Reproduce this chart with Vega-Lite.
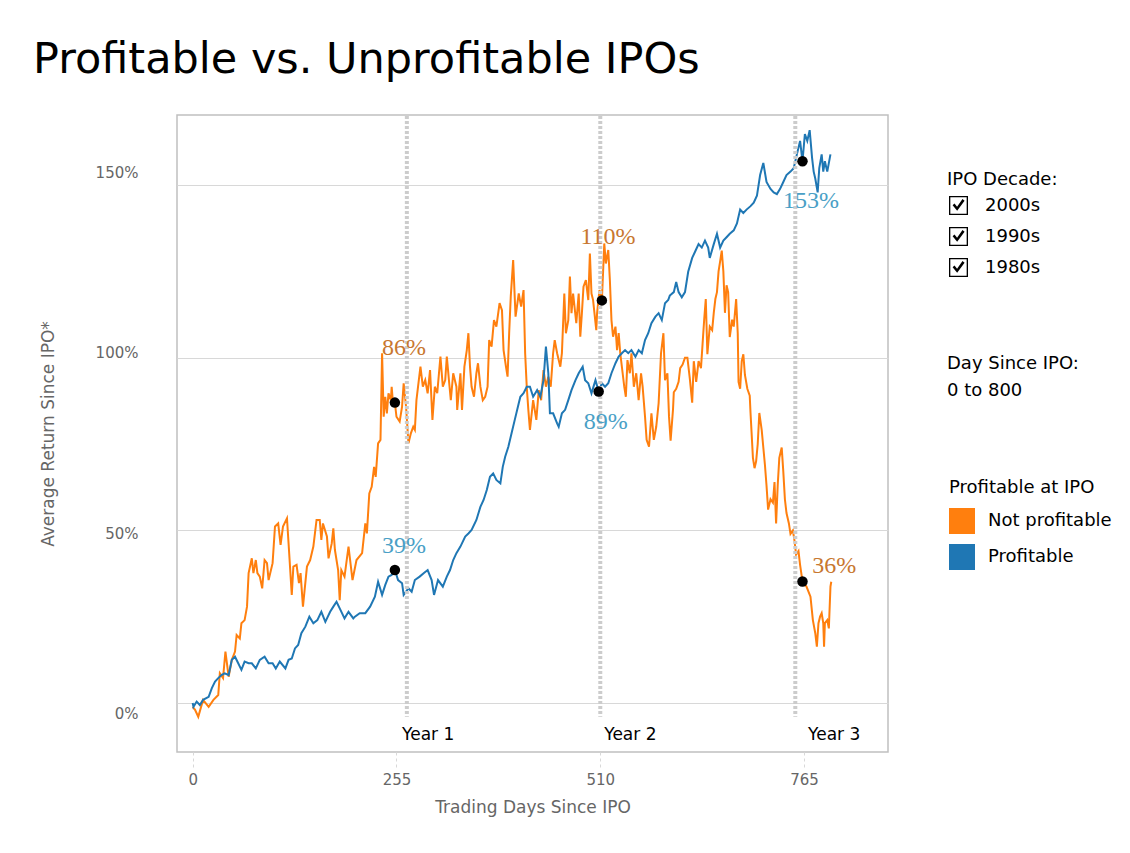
{
  "$schema": "https://vega.github.io/schema/vega-lite/v6.json",
  "autosize": "none",
  "width": 711,
  "height": 637,
  "padding": {"left": 177, "top": 115, "right": 242, "bottom": 101},
  "background": "white",
  "config": {
    "font": "DejaVu Sans",
    "view": {"stroke": "#c0c0c0", "strokeWidth": 1.5}
  },
  "title": {
    "text": "Profitable vs. Unprofitable IPOs",
    "anchor": "start",
    "frame": "group",
    "dx": -144,
    "dy": 42,
    "offset": 40,
    "baseline": "alphabetic",
    "font": "DejaVu Sans",
    "fontSize": 43,
    "fontWeight": "normal",
    "color": "black"
  },
  "datasets": {
    "np": [
      {"day":0,"ret":-1.1},{"day":3,"ret":-2.0},{"day":7,"ret":-4.0},{"day":13,"ret":0.9},{"day":20,"ret":-1.1},{"day":26,"ret":0.9},{"day":32,"ret":2.3},{"day":34,"ret":8.6},{"day":38,"ret":7.2},{"day":41,"ret":14.9},{"day":45,"ret":7.6},{"day":49,"ret":12.5},{"day":53,"ret":14.9},{"day":55,"ret":19.7},{"day":59,"ret":18.7},{"day":61,"ret":23.1},{"day":65,"ret":24.0},{"day":68,"ret":27.9},{"day":70,"ret":37.6},{"day":74,"ret":41.9},{"day":76,"ret":37.6},{"day":79,"ret":41.4},{"day":81,"ret":37.6},{"day":84,"ret":36.6},{"day":87,"ret":33.2},{"day":90,"ret":41.4},{"day":93,"ret":40.5},{"day":95,"ret":35.6},{"day":100,"ret":40.5},{"day":103,"ret":51.1},{"day":107,"ret":52.0},{"day":110,"ret":45.8},{"day":113,"ret":51.1},{"day":118,"ret":53.5},{"day":120,"ret":46.2},{"day":124,"ret":31.3},{"day":126,"ret":39.5},{"day":130,"ret":40.0},{"day":133,"ret":34.7},{"day":135,"ret":37.6},{"day":138,"ret":27.9},{"day":143,"ret":39.5},{"day":147,"ret":41.4},{"day":151,"ret":45.3},{"day":155,"ret":53.0},{"day":159,"ret":53.0},{"day":161,"ret":47.2},{"day":163,"ret":52.0},{"day":168,"ret":48.2},{"day":170,"ret":41.9},{"day":174,"ret":46.2},{"day":176,"ret":50.6},{"day":178,"ret":44.3},{"day":182,"ret":38.5},{"day":184,"ret":29.8},{"day":186,"ret":38.5},{"day":190,"ret":36.6},{"day":195,"ret":45.3},{"day":200,"ret":35.6},{"day":205,"ret":41.4},{"day":212,"ret":43.4},{"day":216,"ret":52.0},{"day":218,"ret":49.1},{"day":221,"ret":60.7},{"day":224,"ret":62.6},{"day":227,"ret":68.4},{"day":229,"ret":65.5},{"day":232,"ret":75.2},{"day":235,"ret":76.2},{"day":237,"ret":101.3},{"day":239,"ret":82.9},{"day":241,"ret":88.7},{"day":243,"ret":83.9},{"day":245,"ret":89.7},{"day":248,"ret":87.7},{"day":249,"ret":91.6},{"day":251,"ret":85.8},{"day":253,"ret":87.0},{"day":255,"ret":82.9},{"day":259,"ret":81.5},{"day":262,"ret":85.8},{"day":264,"ret":92.6},{"day":267,"ret":85.8},{"day":270,"ret":75.2},{"day":273,"ret":78.1},{"day":276,"ret":80.0},{"day":278,"ret":79.1},{"day":280,"ret":87.7},{"day":282,"ret":91.6},{"day":285,"ret":97.4},{"day":288,"ret":91.6},{"day":291,"ret":93.5},{"day":294,"ret":89.7},{"day":297,"ret":96.4},{"day":300,"ret":82.0},{"day":303,"ret":91.6},{"day":306,"ret":89.7},{"day":310,"ret":100.3},{"day":313,"ret":91.6},{"day":316,"ret":93.5},{"day":318,"ret":100.3},{"day":321,"ret":92.6},{"day":323,"ret":87.7},{"day":326,"ret":95.5},{"day":330,"ret":91.6},{"day":331,"ret":84.9},{"day":335,"ret":95.5},{"day":337,"ret":84.9},{"day":340,"ret":97.4},{"day":343,"ret":102.2},{"day":345,"ret":107.1},{"day":347,"ret":97.4},{"day":349,"ret":91.6},{"day":352,"ret":88.7},{"day":355,"ret":95.5},{"day":357,"ret":98.4},{"day":360,"ret":91.6},{"day":363,"ret":87.7},{"day":366,"ret":88.7},{"day":369,"ret":91.6},{"day":371,"ret":105.1},{"day":374,"ret":103.2},{"day":377,"ret":110.9},{"day":380,"ret":109.0},{"day":384,"ret":115.8},{"day":387,"ret":113.8},{"day":389,"ret":102.2},{"day":392,"ret":97.4},{"day":394,"ret":94.5},{"day":396,"ret":107.1},{"day":398,"ret":117.7},{"day":401,"ret":128.3},{"day":404,"ret":111.9},{"day":408,"ret":118.6},{"day":411,"ret":114.8},{"day":414,"ret":119.6},{"day":416,"ret":101.3},{"day":418,"ret":91.6},{"day":420,"ret":84.9},{"day":422,"ret":79.1},{"day":426,"ret":87.7},{"day":430,"ret":82.0},{"day":433,"ret":90.6},{"day":436,"ret":87.7},{"day":439,"ret":96.4},{"day":442,"ret":91.6},{"day":445,"ret":94.5},{"day":448,"ret":91.6},{"day":451,"ret":101.3},{"day":453,"ret":105.1},{"day":456,"ret":101.3},{"day":460,"ret":97.4},{"day":462,"ret":101.3},{"day":465,"ret":118.6},{"day":467,"ret":107.1},{"day":470,"ret":110.9},{"day":472,"ret":123.5},{"day":474,"ret":112.9},{"day":476,"ret":118.6},{"day":480,"ret":110.0},{"day":483,"ret":118.6},{"day":485,"ret":106.1},{"day":487,"ret":112.9},{"day":489,"ret":120.6},{"day":492,"ret":122.5},{"day":495,"ret":116.7},{"day":497,"ret":130.2},{"day":499,"ret":118.6},{"day":501,"ret":116.7},{"day":505,"ret":108.0},{"day":506,"ret":112.9},{"day":509,"ret":119.6},{"day":512,"ret":116.6},{"day":515,"ret":133.1},{"day":517,"ret":127.3},{"day":520,"ret":131.2},{"day":522,"ret":122.5},{"day":524,"ret":110.9},{"day":526,"ret":106.1},{"day":529,"ret":109.0},{"day":531,"ret":102.2},{"day":533,"ret":107.1},{"day":535,"ret":101.3},{"day":538,"ret":95.5},{"day":540,"ret":91.6},{"day":542,"ret":88.7},{"day":544,"ret":99.3},{"day":547,"ret":95.5},{"day":549,"ret":101.3},{"day":552,"ret":91.6},{"day":555,"ret":95.5},{"day":558,"ret":87.7},{"day":561,"ret":95.5},{"day":563,"ret":91.6},{"day":566,"ret":82.9},{"day":568,"ret":76.2},{"day":571,"ret":74.2},{"day":574,"ret":83.9},{"day":577,"ret":76.2},{"day":580,"ret":80.0},{"day":583,"ret":86.8},{"day":586,"ret":101.3},{"day":589,"ret":107.1},{"day":591,"ret":93.5},{"day":594,"ret":95.5},{"day":596,"ret":83},{"day":598,"ret":76},{"day":601,"ret":85},{"day":602,"ret":90},{"day":605,"ret":91},{"day":608,"ret":93},{"day":610,"ret":97},{"day":613,"ret":98},{"day":616,"ret":100},{"day":619,"ret":100},{"day":622,"ret":94},{"day":625,"ret":87},{"day":627,"ret":99},{"day":630,"ret":93},{"day":633,"ret":99},{"day":636,"ret":97},{"day":638,"ret":104},{"day":640,"ret":111},{"day":642,"ret":117},{"day":644,"ret":101},{"day":647,"ret":109},{"day":650,"ret":108},{"day":652,"ret":113},{"day":654,"ret":117},{"day":656,"ret":119},{"day":658,"ret":125},{"day":660,"ret":128},{"day":662,"ret":131},{"day":664,"ret":125},{"day":666,"ret":113},{"day":668,"ret":121},{"day":670,"ret":119},{"day":672,"ret":106},{"day":675,"ret":111},{"day":677,"ret":109},{"day":680,"ret":117},{"day":682,"ret":107},{"day":683,"ret":93},{"day":685,"ret":91},{"day":687,"ret":99},{"day":689,"ret":101},{"day":691,"ret":95},{"day":694,"ret":91},{"day":697,"ret":89},{"day":698,"ret":84},{"day":701,"ret":71},{"day":703,"ret":68},{"day":705,"ret":70},{"day":707,"ret":75},{"day":709,"ret":84},{"day":712,"ret":79},{"day":714,"ret":74},{"day":716,"ret":69},{"day":718,"ret":63},{"day":720,"ret":56},{"day":723,"ret":59},{"day":726,"ret":58},{"day":728,"ret":64},{"day":730,"ret":52},{"day":732,"ret":63},{"day":734,"ret":71},{"day":737,"ret":74},{"day":739,"ret":67},{"day":741,"ret":59},{"day":743,"ret":55},{"day":746,"ret":52},{"day":748,"ret":49},{"day":751,"ret":50},{"day":753,"ret":47},{"day":755,"ret":43},{"day":758,"ret":44},{"day":760,"ret":40},{"day":763,"ret":35.2},{"day":768,"ret":33.7},{"day":773,"ret":30.8},{"day":776,"ret":24.0},{"day":779,"ret":20.2},{"day":781,"ret":16.3},{"day":783,"ret":23.1},{"day":785,"ret":25.0},{"day":787,"ret":26.0},{"day":789,"ret":23.1},{"day":790,"ret":16.3},{"day":791,"ret":23.1},{"day":794,"ret":24.0},{"day":796,"ret":21.6},{"day":798,"ret":33.7},{"day":799,"ret":35.1}
    ],
    "pr": [
      {"day":0,"ret":0},{"day":1,"ret":-1.1},{"day":5,"ret":0.4},{"day":9,"ret":-0.6},{"day":13,"ret":0.9},{"day":20,"ret":1.8},{"day":24,"ret":4.3},{"day":28,"ret":6.2},{"day":32,"ret":7.2},{"day":36,"ret":8.1},{"day":40,"ret":8.6},{"day":45,"ret":8.1},{"day":49,"ret":12.5},{"day":53,"ret":13.4},{"day":57,"ret":11.5},{"day":61,"ret":9.6},{"day":65,"ret":12.0},{"day":70,"ret":11.5},{"day":74,"ret":11.5},{"day":79,"ret":10.0},{"day":84,"ret":12.5},{"day":90,"ret":13.4},{"day":95,"ret":11.5},{"day":100,"ret":11.5},{"day":104,"ret":10.0},{"day":109,"ret":12.0},{"day":116,"ret":10.0},{"day":120,"ret":12.5},{"day":124,"ret":12.9},{"day":128,"ret":15.8},{"day":132,"ret":16.8},{"day":136,"ret":20.2},{"day":141,"ret":22.1},{"day":146,"ret":25.0},{"day":151,"ret":23.1},{"day":156,"ret":24.0},{"day":161,"ret":26.4},{"day":166,"ret":23.5},{"day":172,"ret":26.4},{"day":176,"ret":27.9},{"day":180,"ret":29.3},{"day":184,"ret":27.4},{"day":190,"ret":24.5},{"day":195,"ret":26.4},{"day":201,"ret":24.5},{"day":203,"ret":25.0},{"day":209,"ret":26.0},{"day":216,"ret":26.0},{"day":222,"ret":27.9},{"day":228,"ret":30.8},{"day":232,"ret":35.1},{"day":237,"ret":31.3},{"day":241,"ret":34.2},{"day":245,"ret":36.6},{"day":249,"ret":37.1},{"day":253,"ret":38.5},{"day":257,"ret":35.6},{"day":262,"ret":34.7},{"day":264,"ret":31.3},{"day":270,"ret":33.2},{"day":274,"ret":32.2},{"day":278,"ret":35.6},{"day":284,"ret":36.6},{"day":289,"ret":37.6},{"day":294,"ret":38.5},{"day":299,"ret":35.6},{"day":302,"ret":31.3},{"day":307,"ret":35.6},{"day":313,"ret":33.7},{"day":318,"ret":36.6},{"day":322,"ret":38.5},{"day":326,"ret":41.4},{"day":330,"ret":43.4},{"day":335,"ret":45.3},{"day":341,"ret":48.2},{"day":345,"ret":49.1},{"day":349,"ret":50.1},{"day":355,"ret":53.0},{"day":360,"ret":56.8},{"day":364,"ret":58.8},{"day":368,"ret":61.7},{"day":372,"ret":65.5},{"day":376,"ret":66.5},{"day":380,"ret":64.6},{"day":385,"ret":63.6},{"day":388,"ret":68.4},{"day":391,"ret":71.3},{"day":395,"ret":74.2},{"day":399,"ret":78.1},{"day":403,"ret":82.0},{"day":408,"ret":86.8},{"day":410,"ret":88.7},{"day":414,"ret":89.7},{"day":418,"ret":91.6},{"day":422,"ret":91.6},{"day":426,"ret":88.7},{"day":431,"ret":90.6},{"day":435,"ret":88.7},{"day":439,"ret":93.5},{"day":442,"ret":103.2},{"day":445,"ret":95.5},{"day":447,"ret":83.9},{"day":451,"ret":83.9},{"day":456,"ret":81.0},{"day":458,"ret":80.0},{"day":462,"ret":83.9},{"day":466,"ret":84.9},{"day":470,"ret":87.7},{"day":474,"ret":90.6},{"day":479,"ret":93.5},{"day":483,"ret":95.5},{"day":488,"ret":97.4},{"day":491,"ret":93.5},{"day":495,"ret":92.6},{"day":499,"ret":89.7},{"day":504,"ret":93.5},{"day":508,"ret":90.2},{"day":512,"ret":92.6},{"day":516,"ret":91.6},{"day":520,"ret":92.6},{"day":524,"ret":95.5},{"day":529,"ret":98.4},{"day":533,"ret":100.3},{"day":537,"ret":101.3},{"day":541,"ret":102.2},{"day":545,"ret":101.3},{"day":549,"ret":102.2},{"day":554,"ret":100.3},{"day":558,"ret":102.2},{"day":562,"ret":101.3},{"day":566,"ret":105.1},{"day":570,"ret":107.1},{"day":574,"ret":110.0},{"day":579,"ret":111.9},{"day":583,"ret":112.9},{"day":587,"ret":110.9},{"day":591,"ret":115.8},{"day":595,"ret":116.7},{"day":597,"ret":118.0},{"day":602,"ret":119.0},{"day":605,"ret":121.9},{"day":608,"ret":119.0},{"day":612,"ret":117.5},{"day":616,"ret":119.0},{"day":620,"ret":124.9},{"day":625,"ret":128.9},{"day":629,"ret":130.9},{"day":633,"ret":132.9},{"day":637,"ret":131.9},{"day":641,"ret":133.9},{"day":645,"ret":131.9},{"day":647,"ret":128.9},{"day":652,"ret":132.9},{"day":656,"ret":135.9},{"day":660,"ret":131.9},{"day":664,"ret":133.9},{"day":668,"ret":134.9},{"day":672,"ret":135.9},{"day":677,"ret":136.9},{"day":681,"ret":138.9},{"day":685,"ret":142.9},{"day":689,"ret":141.9},{"day":693,"ret":142.9},{"day":698,"ret":143.9},{"day":702,"ret":144.9},{"day":706,"ret":146.9},{"day":710,"ret":152.9},{"day":714,"ret":156.4},{"day":718,"ret":150.9},{"day":723,"ret":148.9},{"day":727,"ret":147.9},{"day":731,"ret":147.4},{"day":735,"ret":148.9},{"day":739,"ret":150.9},{"day":743,"ret":152.9},{"day":748,"ret":153.9},{"day":752,"ret":154.9},{"day":756,"ret":158.9},{"day":760,"ret":162.8},{"day":763,"ret":156.9},{"day":766,"ret":164.8},{"day":769,"ret":162.8},{"day":772,"ret":165.9},{"day":775,"ret":157.9},{"day":777,"ret":153.9},{"day":779,"ret":151.9},{"day":782,"ret":147.9},{"day":784,"ret":154.9},{"day":787,"ret":158.9},{"day":789,"ret":153.9},{"day":791,"ret":156.9},{"day":794,"ret":153.9},{"day":798,"ret":158.9}
    ],
    "dots": [
      {"day":253,"ret":87.0},{"day":253,"ret":38.5},{"day":512,"ret":116.6},{"day":508,"ret":90.2},{"day":763,"ret":156.9},{"day":763,"ret":35.2}
    ],
    "notes": [
      {"day":264.5,"ret":102.8,"text":"86%","series":"Not profitable"},
      {"day":264.5,"ret":45.5,"text":"39%","series":"Profitable"},
      {"day":519.7,"ret":135,"text":"110%","series":"Not profitable"},
      {"day":517,"ret":81.4,"text":"89%","series":"Profitable"},
      {"day":773.6,"ret":145.4,"text":"153%","series":"Profitable"},
      {"day":802.6,"ret":39.7,"text":"36%","series":"Not profitable"}
    ],
    "years": [
      {"yearDay": 268, "labelDay": 262, "yearLabel": "Year 1"},
      {"yearDay": 510, "labelDay": 515, "yearLabel": "Year 2"},
      {"yearDay": 754, "labelDay": 770, "yearLabel": "Year 3"}
    ],
    "filters": [
      {"decade":"2000s","span":"0 to 800"},
      {"decade":"1990s","span":"0 to 800"},
      {"decade":"1980s","span":"0 to 800"}
    ]
  },
  "layer": [
    {
      "data": {"name": "np"},
      "mark": {"type": "line", "strokeWidth": 2, "clip": true},
      "encoding": {
        "x": {
          "field": "day", "type": "quantitative",
          "scale": {"domain": [-19.6, 870], "nice": false, "zero": false},
          "axis": {
            "values": [0, 255, 510, 765],
            "grid": false, "domain": false,
            "ticks": true, "tickSize": 18, "tickColor": "#d8d8d8", "tickDash": [3, 3], "tickWidth": 1,
            "labelPadding": 2, "labelFont": "DejaVu Sans", "labelFontSize": 15, "labelColor": "#666666",
            "title": "Trading Days Since IPO", "titleFont": "DejaVu Sans", "titleFontSize": 17,
            "titleFontWeight": "normal", "titleColor": "#666666", "titlePadding": 12
          }
        },
        "y": {
          "field": "ret", "type": "quantitative",
          "scale": {"domain": [-14.2, 170.3], "nice": false, "zero": false},
          "axis": {
            "values": [0, 50, 100, 150],
            "labelExpr": "datum.value + '%'",
            "labelOffset": {"expr": "11 - 0.16*datum.value"},
            "grid": true, "gridColor": "#d8d8d8", "gridWidth": 1,
            "domain": false, "ticks": false, "tickSize": 0,
            "labelPadding": 39, "labelFont": "DejaVu Sans", "labelFontSize": 15, "labelColor": "#666666",
            "title": "Average Return Since IPO*", "titleFont": "DejaVu Sans", "titleFontSize": 17,
            "titleFontWeight": "normal", "titleColor": "#666666", "titlePadding": 38
          }
        },
        "color": {
          "datum": "Not profitable",
          "scale": {"domain": ["Not profitable", "Profitable"], "range": ["#ff7f0e", "#1f77b4"]},
          "legend": {
            "title": "Profitable at IPO",
            "orient": "none", "legendX": 772, "legendY": 364,
            "padding": 0,
            "titleFont": "DejaVu Sans", "titleFontSize": 18, "titleFontWeight": "normal", "titleColor": "black",
            "titlePadding": 11,
            "labelFont": "DejaVu Sans", "labelFontSize": 18, "labelColor": "black", "labelOffset": 13,
            "symbolType": "square", "symbolSize": 676, "rowPadding": 10,
            "encode": {"symbols": {"update": {"fill": {"scale": "color", "field": "value"}, "stroke": {"value": "transparent"}, "strokeWidth": {"value": 0}, "opacity": {"value": 1}}}}
          }
        }
      }
    },
    {
      "data": {"name": "pr"},
      "mark": {"type": "line", "strokeWidth": 2, "clip": true},
      "encoding": {
        "x": {"field": "day", "type": "quantitative"},
        "y": {"field": "ret", "type": "quantitative"},
        "color": {"datum": "Profitable"}
      }
    },
    {
      "data": {"name": "years"},
      "mark": {"type": "rule", "color": "#cccccc", "strokeWidth": 4, "strokeDash": [3, 2]},
      "encoding": {
        "x": {"field": "yearDay", "type": "quantitative"},
        "y": {"datum": 170},
        "y2": {"datum": -4}
      }
    },
    {
      "data": {"name": "years"},
      "mark": {"type": "text", "align": "left", "baseline": "middle", "font": "DejaVu Sans", "fontSize": 17, "color": "black"},
      "encoding": {
        "x": {"field": "labelDay", "type": "quantitative"},
        "y": {"datum": -9.3},
        "text": {"field": "yearLabel"}
      }
    },
    {
      "data": {"name": "dots"},
      "mark": {"type": "circle", "size": 110, "color": "black", "opacity": 1},
      "encoding": {
        "x": {"field": "day", "type": "quantitative"},
        "y": {"field": "ret", "type": "quantitative"}
      }
    },
    {
      "data": {"name": "notes"},
      "transform": [{"filter": "datum.series == 'Not profitable'"}],
      "mark": {"type": "text", "align": "center", "baseline": "middle", "font": "Liberation Serif", "fontSize": 24, "color": "#c8772f"},
      "encoding": {
        "x": {"field": "day", "type": "quantitative"},
        "y": {"field": "ret", "type": "quantitative"},
        "text": {"field": "text"}
      }
    },
    {
      "data": {"name": "notes"},
      "transform": [{"filter": "datum.series == 'Profitable'"}],
      "mark": {"type": "text", "align": "center", "baseline": "middle", "font": "Liberation Serif", "fontSize": 24, "color": "#4a9fc6"},
      "encoding": {
        "x": {"field": "day", "type": "quantitative"},
        "y": {"field": "ret", "type": "quantitative"},
        "text": {"field": "text"}
      }
    },
    {
      "data": {"name": "filters"},
      "mark": {"type": "point", "filled": true, "color": "black"},
      "encoding": {
        "shape": {
          "field": "decade", "type": "nominal",
          "scale": {
            "domain": ["2000s", "1990s", "1980s"],
            "range": [
              "M-1,-1H1V1H-1Z M-0.86,-0.86V0.86H0.86V-0.86Z M-0.62,-0.02L-0.42,-0.2L-0.15,0.12L0.42,-0.68L0.64,-0.5L-0.14,0.56Z",
              "M-1,-1H1V1H-1Z M-0.86,-0.86V0.86H0.86V-0.86Z M-0.62,-0.02L-0.42,-0.2L-0.15,0.12L0.42,-0.68L0.64,-0.5L-0.14,0.56Z",
              "M-1,-1H1V1H-1Z M-0.86,-0.86V0.86H0.86V-0.86Z M-0.62,-0.02L-0.42,-0.2L-0.15,0.12L0.42,-0.68L0.64,-0.5L-0.14,0.56Z"
            ]
          },
          "legend": {
            "title": "IPO Decade:",
            "orient": "none", "legendX": 770, "legendY": 56,
            "padding": 0,
            "titleFont": "DejaVu Sans", "titleFontSize": 18, "titleFontWeight": "normal", "titleColor": "black",
            "titlePadding": 7,
            "labelFont": "DejaVu Sans", "labelFontSize": 18, "labelColor": "black", "labelOffset": 17,
            "symbolSize": 361, "symbolOpacity": 1, "symbolFillColor": "black", "symbolStrokeColor": "black", "symbolStrokeWidth": 0,
            "symbolOffset": 2, "rowPadding": 12
          }
        },
        "opacity": {
          "field": "span", "type": "ordinal",
          "scale": {"range": [0, 0]},
          "legend": {
            "title": ["Day Since IPO:", "\u20020 to 800"],
            "titleLineHeight": 27,
            "orient": "none", "legendX": 770, "legendY": 240,
            "padding": 0,
            "titleFont": "DejaVu Sans", "titleFontSize": 18, "titleFontWeight": "normal", "titleColor": "black",
            "titlePadding": 0,
            "labelOpacity": 0, "symbolOpacity": 0, "symbolSize": 0, "labelFontSize": 1
          }
        }
      }
    }
  ]
}
